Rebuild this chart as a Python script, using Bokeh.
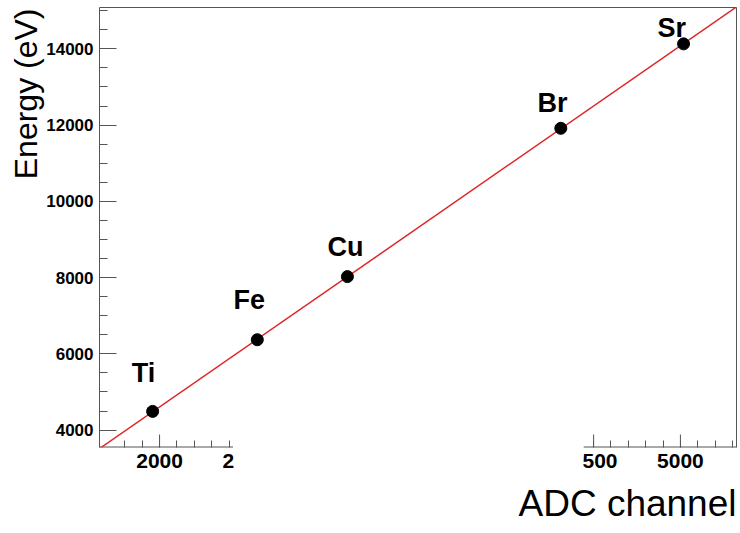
from bokeh.plotting import figure
from bokeh.models import Range1d, FixedTicker, LinearAxis, ColumnDataSource, Title
from bokeh.embed import file_html
from bokeh.resources import INLINE
from bokeh.core.properties import value
import numpy as np

# ---- data ----
elements = ["Ti", "Fe", "Cu", "Br", "Sr"]
adc = [1960, 2563, 3082, 4311, 5018]
energy = [4490, 6370, 8025, 11915, 14130]
label_x = [1908, 2517, 3071, 4263, 4950]
label_y = [5490, 7400, 8810, 12580, 14545]

x_lo, x_hi = 1654, 5323
y_lo, y_hi = 3543, 15084

# tick marks of the bottom axis (only the visible pieces)
x_major = [2000, 4500, 5000]
x_minor = [1800, 1900, 2100, 2200, 2300, 2400,
           4600, 4700, 4800, 4900, 5100, 5200, 5300]
# tick labels as they appear (the middle of the axis is cut away,
# leaving "2" of "2500" and "500" of "4500")
x_label_pos = [2000, 2396, 4537, 5000]
x_label_txt = ["2000", "2", "500", "5000"]
# visible pieces of the bottom axis line
axis_seg_start = [x_lo, 4443]
axis_seg_end = [2423, x_hi]

y_major = [4000, 6000, 8000, 10000, 12000, 14000]
y_minor = [v for v in range(4000, 15001, 500) if v not in y_major]

FONT = "Liberation Sans"
AX = "#555555"

p = figure(width=740, height=533, output_backend="svg", toolbar_location=None,
           x_range=Range1d(x_lo, x_hi), y_range=Range1d(y_lo, y_hi),
           x_axis_type=None, y_axis_type=None,
           min_border_left=99, min_border_right=4, min_border_top=7,
           min_border_bottom=86)
p.outline_line_color = None
p.grid.visible = False
p.background_fill_color = "white"
p.border_fill_color = "white"

# left axis
yax = LinearAxis(ticker=FixedTicker(ticks=y_major, minor_ticks=y_minor))
yax.major_label_text_font = FONT
yax.major_label_text_font_style = "bold"
yax.major_label_text_font_size = "17px"
yax.major_label_text_color = "black"
yax.major_label_standoff = 6
yax.axis_line_color = AX
yax.major_tick_line_color = AX
yax.minor_tick_line_color = AX
yax.major_tick_in = 17
yax.major_tick_out = 0
yax.minor_tick_in = 8
yax.minor_tick_out = 0
p.add_layout(yax, "left")
p.add_layout(Title(text="Energy (eV)", align="right", offset=1, standoff=0,
                   text_font=FONT, text_font_style="normal",
                   text_font_size="32px", text_color="black"), "left")

# bottom axis: short tick marks (no labels)
xax = LinearAxis(ticker=FixedTicker(ticks=[], minor_ticks=x_major + x_minor))
xax.axis_line_color = None
xax.major_tick_line_color = None
xax.minor_tick_line_color = AX
xax.minor_tick_in = 7
xax.minor_tick_out = 0
p.add_layout(xax, "below")

# bottom axis: labels
xlab = LinearAxis(ticker=FixedTicker(ticks=x_label_pos, minor_ticks=[]))
xlab.major_label_overrides = dict(zip(x_label_pos, x_label_txt))
xlab.axis_line_color = None
xlab.major_tick_line_color = None
xlab.minor_tick_line_color = None
xlab.major_tick_in = 0
xlab.major_tick_out = 0
xlab.major_label_text_font = FONT
xlab.major_label_text_font_style = "bold"
xlab.major_label_text_font_size = "21px"
xlab.major_label_text_color = "black"
xlab.major_label_standoff = 6
p.add_layout(xlab, "below")
p.add_layout(Title(text="ADC channel", align="right", standoff=20,
                   text_font=FONT, text_font_style="normal",
                   text_font_size="37px", text_color="black"), "below")

# top and right frame lines
for side in ("above", "right"):
    ax = LinearAxis(ticker=FixedTicker(ticks=[]), axis_line_color=AX,
                    major_tick_line_color=None, minor_tick_line_color=None)
    p.add_layout(ax, side)

# visible bottom axis pieces and the long (major) ticks
p.segment(x0=axis_seg_start, y0=[y_lo, y_lo], x1=axis_seg_end, y1=[y_lo, y_lo],
          line_color=AX, line_width=2)
p.ray(x=x_major, y=[y_lo] * len(x_major), length=13, length_units="screen",
      angle=90, angle_units="deg", line_color=AX, line_width=1)

# linear calibration fit
slope, intercept = np.polyfit(adc, energy, 1)
fx = [x_lo, x_hi]
fy = [slope * v + intercept for v in fx]
p.line(fx, fy, line_color="#dd2626", line_width=1.5)

src = ColumnDataSource(dict(x=adc, y=energy, lx=label_x, ly=label_y, t=elements))
p.scatter("x", "y", source=src, size=12, color="black")
p.text("lx", "ly", text="t", source=src, text_align="center", text_baseline="middle",
       text_font=value(FONT), text_font_style="bold", text_font_size="27px",
       text_color="black")

open("out.html", "w").write(file_html(p, INLINE))
